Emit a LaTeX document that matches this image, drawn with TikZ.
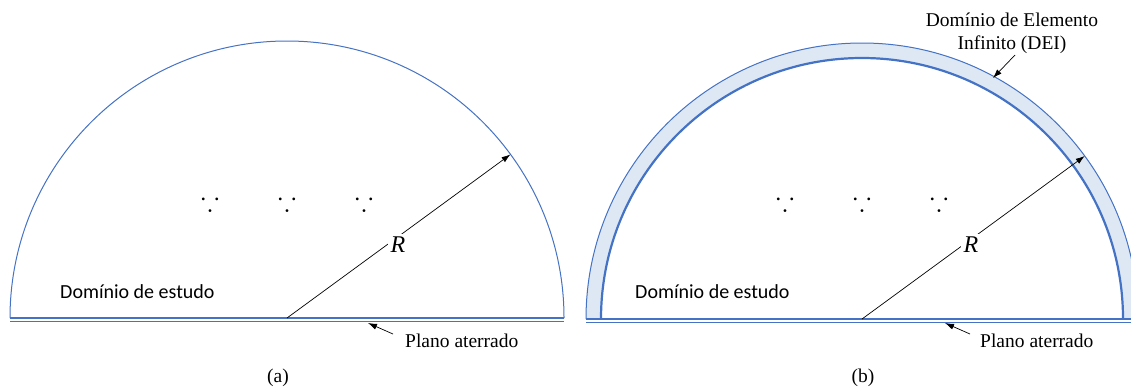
\documentclass[tikz,border=0pt]{standalone}
\usepackage{amssymb}
\usepackage{fontspec}
\setmainfont{Liberation Serif}
\newfontfamily\calibfont{Carlito}
\usetikzlibrary{arrows.meta,calc}
\definecolor{lblue}{HTML}{4472C4}
\definecolor{bandfill}{HTML}{DEE8F5}
\tikzset{
  txt/.style={font=\fontsize{19.5}{23}\selectfont, inner sep=0pt},
  calib/.style={font=\calibfont\fontsize{20}{24}\selectfont, inner sep=0pt},
  rlab/.style={font=\fontsize{24}{28}\selectfont\itshape, fill=white, inner sep=3pt},
  dotsym/.style={font=\fontsize{27}{30}\selectfont, inner sep=0pt},
  arr/.style={black, line width=0.7pt, -{Latex[length=9pt,width=6pt]}},
  thinarc/.style={lblue, line width=1pt},
  thickarc/.style={lblue, line width=2.2pt},
}
\begin{document}
\begin{tikzpicture}[x=1pt,y=-1pt]
\useasboundingbox (0,0) rectangle (1131,386);
\clip (0,0) rectangle (1131,386);
% ---------- (a) ----------
\coordinate (ca) at (287,318);
\coordinate (ta) at ($(ca)+(223.5,-163.6)$);
\draw[thinarc] (10,318) arc[start angle=180, end angle=360, radius=277];
\draw[lblue, line width=1.8pt] (10,318) -- (564,318);
\draw[lblue, line width=0.8pt] (10,321.5) -- (564,321.5);
\draw[arr] (ca) -- (ta);
\node[rlab] (ra) at (398,245) {R};
\node[dotsym] (d1a) at (210,201) {$\because$};
\node[dotsym] (d2a) at (287,201) {$\because$};
\node[dotsym] (d3a) at (364,201) {$\because$};
\node[calib, anchor=base west] (dea) at (60,298) {Domínio de estudo};
\node[txt, anchor=base west] (pla) at (405,347) {Plano aterrado};
\coordinate (pta) at (368,323);
\coordinate (psa) at (393,334);
\draw[arr] (psa) -- (pta);
\node[txt, anchor=base] (capa) at (278,382) {(a)};
% ---------- (b) ----------
\coordinate (cb) at (862,319);
\coordinate (tb) at ($(cb)+(222.7,-163)$);
\fill[bandfill] (586,319) arc[start angle=180, end angle=360, radius=276]
   -- (1123,319) arc[start angle=360, end angle=180, radius=261] -- cycle;
\draw[thinarc] (586,319) arc[start angle=180, end angle=360, radius=276];
\draw[thickarc] (601,319) arc[start angle=180, end angle=360, radius=261];
\draw[lblue, line width=1.8pt] (586,319) -- (1138,319);
\draw[lblue, line width=0.8pt] (586,322) -- (1138,322);
\draw[arr] (cb) -- (tb);
\node[rlab] (rb) at (971,245) {R};
\node[dotsym] (d1b) at (785,201) {$\because$};
\node[dotsym] (d2b) at (862,201) {$\because$};
\node[dotsym] (d3b) at (939,201) {$\because$};
\node[calib, anchor=base west] (deb) at (635,298) {Domínio de estudo};
\node[txt, anchor=base west] (plb) at (980,347) {Plano aterrado};
\coordinate (ptb) at (945,323);
\coordinate (psb) at (970,334);
\draw[arr] (psb) -- (ptb);
\node[txt, anchor=base] (capb) at (863,382) {(b)};
\node[txt, align=center, anchor=north] (dei) at (1012,13) {Domínio de Elemento\\Infinito (DEI)};
\coordinate (dtip) at (993,78);
\coordinate (dst) at (1015,55);
\draw[arr] (dst) -- (dtip);
\end{tikzpicture}
\end{document}
